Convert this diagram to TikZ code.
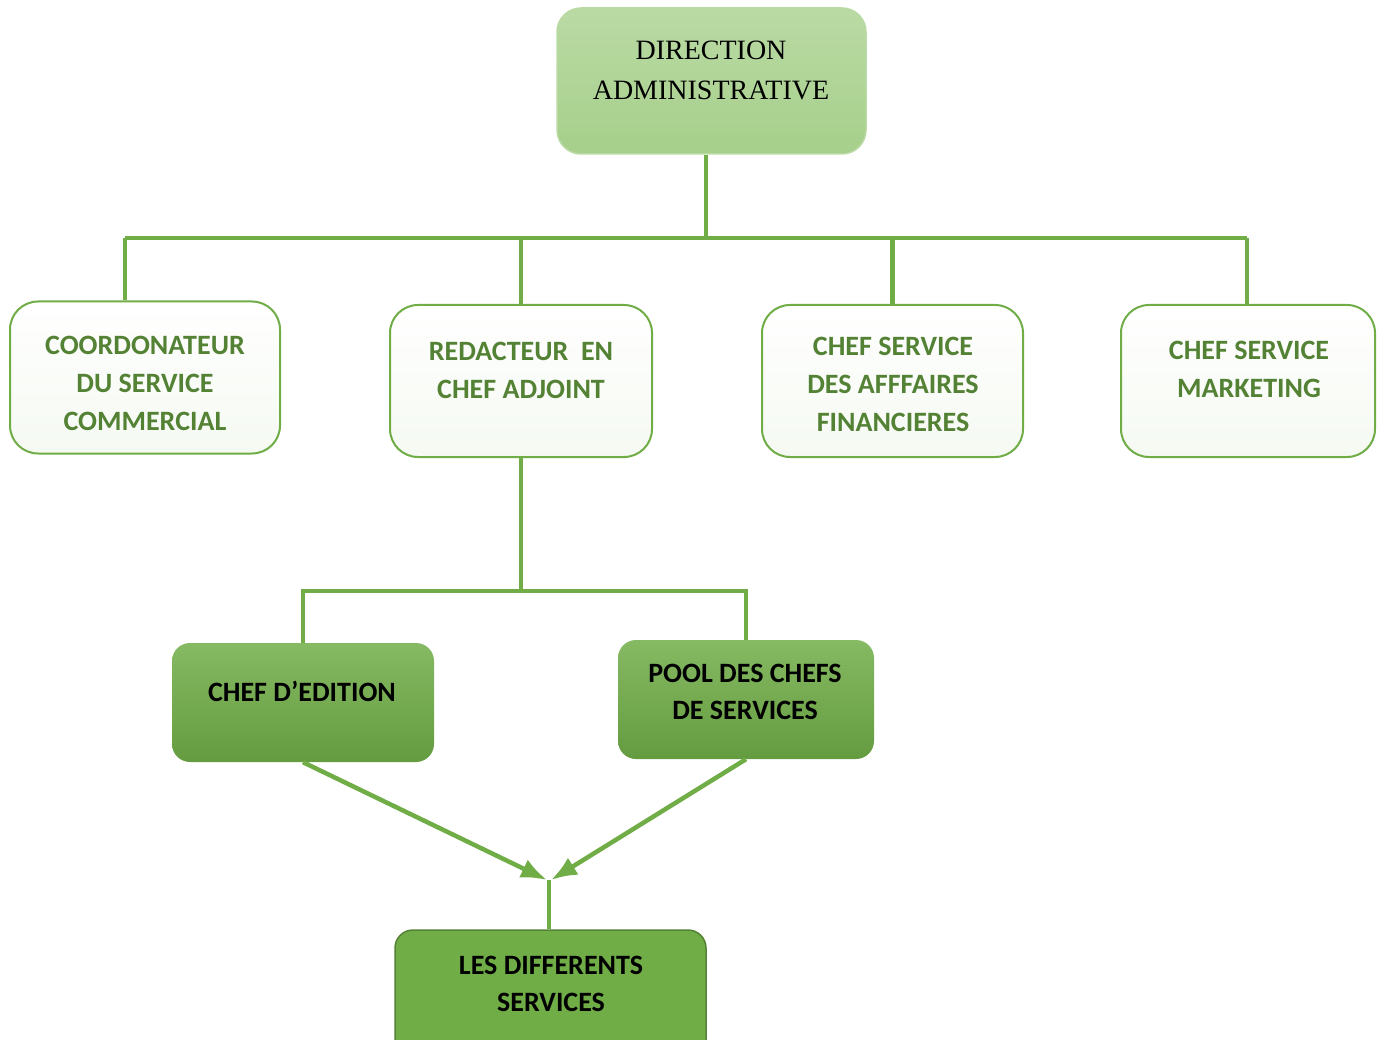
\documentclass[tikz,border=0pt]{standalone}
\usepackage{fontspec}
\setmainfont{Liberation Serif}
\newfontfamily\calib{Carlito}
\usetikzlibrary{arrows.meta}

\definecolor{lgreen}{HTML}{70AD47}
\definecolor{dgreen}{HTML}{548235}
\definecolor{pgreen}{HTML}{A9D18E}

\tikzset{
  topbox/.style={draw=pgreen!80!white, line width=1.5pt, rounded corners=24pt,
    top color=pgreen!80!white, bottom color=pgreen!95!lgreen,
    minimum width=309pt, minimum height=146pt, inner sep=0pt},
  whitebox/.style={draw=lgreen, line width=2pt, rounded corners=28pt,
    top color=white, bottom color=lgreen!7, minimum height=152pt, inner sep=0pt},
  darkbox/.style={rounded corners=18pt, top color=lgreen!85!white,
    bottom color=lgreen!90!black, minimum height=119pt, inner sep=0pt},
  basebox/.style={draw=dgreen, line width=1.5pt, rounded corners=18pt,
    fill=lgreen, minimum height=130pt, inner sep=0pt},
  toptext/.style={font=\fontsize{28}{40}\selectfont, align=center},
  lighttext/.style={font=\calib\bfseries\fontsize{28}{38}\selectfont, text=dgreen, align=center},
  darktext/.style={font=\calib\bfseries\fontsize{28}{37}\selectfont, align=center},
  link/.style={draw=lgreen, line width=4.5pt},
  tip/.style={-{Latex[length=26pt,width=20pt]}},
}

\begin{document}
\begin{tikzpicture}[x=1pt, y=-1pt]
  \useasboundingbox (0,0) rectangle (1384,1040);

  % boxes
  \node[topbox] (dir) at (711.5,81) {} ; %
  \node[toptext] at (711,70) {DIRECTION\\ADMINISTRATIVE} ; %

  \node[whitebox, minimum width=270pt] (coord) at (145,377.5) {} ; %
  \node[lighttext] at (145,383) {COORDONATEUR\\DU SERVICE\\COMMERCIAL} ; %
  \node[whitebox, minimum width=262pt] (red) at (521,381) {} ; %
  \node[lighttext] at (521,370) {REDACTEUR~ EN\\CHEF ADJOINT} ; %
  \node[whitebox, minimum width=261pt] (fin) at (892.5,381) {} ; %
  \node[lighttext] at (893,384.5) {CHEF SERVICE\\DES AFFFAIRES\\FINANCIERES} ; %
  \node[whitebox, minimum width=254pt] (mkt) at (1248,381) {} ; %
  \node[lighttext] at (1249,369.5) {CHEF SERVICE\\MARKETING} ; %

  \node[darkbox, minimum width=262pt] (chef) at (303,702.5) {} ; %
  \node[darktext] at (302,691) {CHEF D’EDITION} ; %
  \node[darkbox, minimum width=256pt] (pool) at (746,699.5) {} ; %
  \node[darktext] at (745,691.5) {POOL DES CHEFS\\DE SERVICES} ; %

  \node[basebox, minimum width=311pt] (les) at (550.5,995) {} ; %
  \node[darktext] at (551,983.5) {LES DIFFERENTS\\SERVICES} ; %

  % connectors
  \coordinate (hub) at (706,238) ; %
  \coordinate (busL) at (125,238) ; %
  \coordinate (busR) at (1247,238) ; %
  \draw[link] (dir.south -| hub) -- (hub) ; %
  \draw[link] (busL) -- (busR) ; %
  \draw[link] (busL) -- (busL |- coord.north) ; %
  \draw[link] (red.north) -- (red.north |- hub) ; %
  \draw[link] (fin.north) -- (fin.north |- hub) ; %
  \draw[link] (busR) -- (busR |- mkt.north) ; %

  \coordinate (hub2) at (521,591) ; %
  \draw[link] (red.south) -- (hub2) ; %
  \draw[link] (chef.north) |- (hub2) -| (pool.north) ; %

  \coordinate (meet) at (549,880) ; %
  \draw[link, tip] (chef.south) -- ([xshift=-2pt]meet) ; %
  \draw[link, tip] (pool.south) -- ([xshift=2pt]meet) ; %
  \draw[link] (meet) -- (les.north -| meet) ; %
\end{tikzpicture}
\end{document}
